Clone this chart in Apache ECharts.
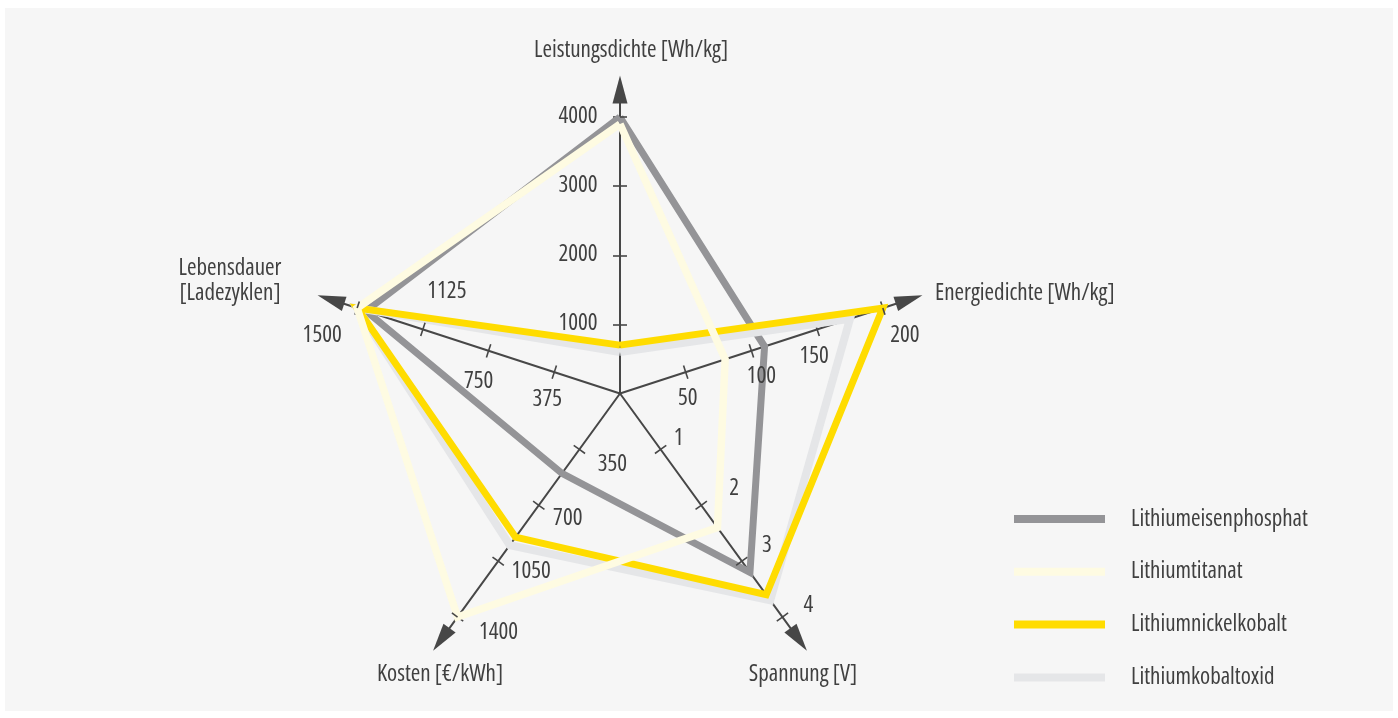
<!DOCTYPE html>
<html>
<head>
<meta charset="utf-8">
<script src="https://cdn.jsdelivr.net/npm/echarts@6/dist/echarts.min.js"></script>
<style>
  html, body { margin: 0; padding: 0; background: #ffffff; }
  #chart { width: 1398px; height: 718px; }
</style>
</head>
<body>
<div id="chart"></div>
<script>
// Axes, counter-clockwise from the top
const axisNames = ['Leistungsdichte [Wh/kg]', 'Lebensdauer\n[Ladezyklen]', 'Kosten [€/kWh]', 'Spannung [V]', 'Energiedichte [Wh/kg]'];

// Tick labels of each axis
const leistungsdichteTicks = [1000, 2000, 3000, 4000];
const lebensdauerTicks = [375, 750, 1125, 1500];
const kostenTicks = [350, 700, 1050, 1400];
const spannungTicks = [1, 2, 3, 4];
const energiedichteTicks = [50, 100, 150, 200];

// Values per battery type, in axis order
const seriesNames = ['Lithiumeisenphosphat', 'Lithiumtitanat', 'Lithiumnickelkobalt', 'Lithiumkobaltoxid'];
const lithiumeisenphosphat = [4000, 1450, 500, 3.2, 110];
const lithiumtitanat = [3900, 1500, 1400, 2.4, 80];
const lithiumnickelkobalt = [700, 1500, 900, 3.6, 200];
const lithiumkobaltoxid = [600, 1500, 950, 3.7, 175];

// Pick a narrow sans face that is installed and size it so that a few
// strings keep their intended width.
const typeface = (function () {
  const ctx = document.createElement('canvas').getContext('2d');
  const sample = 'Leistungsdichte [Wh/kg]Lithiumnickelkobalt Kosten [€/kWh]';
  const target = 521;
  function width(font) { ctx.font = font; return ctx.measureText(sample).width; }
  const mono = width('22px monospace');
  const candidates = [
    { weight: 'normal', family: "'Liberation Sans Narrow'" },
    { weight: 'normal semi-condensed', family: "'Noto Sans'" },
    { weight: 'normal semi-condensed', family: "'Open Sans'" },
    { weight: 'normal condensed', family: "'Noto Sans'" },
    { weight: 'normal condensed', family: "'Open Sans'" },
    { weight: 'normal', family: "'DejaVu Sans Condensed'" },
    { weight: 'normal', family: "'Liberation Sans'" }
  ];
  for (let i = 0; i < candidates.length; i++) {
    const c = candidates[i];
    const plain = width('22px ' + c.family + ', monospace');
    if (Math.abs(plain - mono) < 0.5) continue;           // not installed
    const styled = width(c.weight + ' 22px ' + c.family + ', monospace');
    if (c.weight !== 'normal' && styled > plain * 0.95) continue;  // no narrow width available
    const size = Math.min(23, Math.round(22 * target / styled * 2) / 2);
    return { weight: c.weight, family: c.family + ', sans-serif', size: size };
  }
  return { weight: 'normal', family: 'sans-serif', size: 20 };
})();

const FONT = typeface.family;
const FW = typeface.weight;
const FS = typeface.size;
const TEXT = '#404040';
const AXIS = '#474747';
const CENTER = [620, 393.5];
const RADIUS = 304;
const OVERSHOOT = 1.1;   // axis line runs past the last tick up to the arrow

// label centre offsets (px) from each tick point
const labelOffsets = [
  [[-42, -1], [-42, -1], [-42, -1], [-42, -1]],
  [[-7, 27], [-10, 31], [24, -38], [-35, 27]],
  [[33, 15], [29, 13], [33, 10], [41, 15]],
  [[18, -11], [33, -17], [25, -16], [26, -12]],
  [[2, 26], [10, 26], [-3, 27], [22, 27]]
];
const tickSets = [leistungsdichteTicks, lebensdauerTicks, kostenTicks, spannungTicks, energiedichteTicks];

function labelConfig(ticks, offsets) {
  const rich = {};
  offsets.forEach(function (o, i) {
    const dx = o[0], dy = o[1];
    rich['p' + i] = {
      fontFamily: FONT, fontWeight: FW, fontSize: FS, color: TEXT,
      padding: [Math.max(0, 2 * dy), Math.max(0, -2 * dx), Math.max(0, -2 * dy), Math.max(0, 2 * dx)]
    };
  });
  return {
    show: true,
    customValues: ticks,
    margin: 0,
    align: 'center',
    verticalAlign: 'middle',
    fontFamily: FONT, fontWeight: FW, fontSize: FS, color: TEXT,
    formatter: function (v) {
      const i = ticks.indexOf(+v);
      return i < 0 ? '' : '{p' + i + '|' + v + '}';
    },
    rich: rich
  };
}

function indicators(withLabels, tickLen) {
  return axisNames.map(function (name, k) {
    const ticks = tickSets[k];
    return {
      name: name,
      min: 0,
      max: ticks[ticks.length - 1] * OVERSHOOT,
      axisTick: { show: true, customValues: ticks, length: tickLen, lineStyle: { color: AXIS, width: 1.6 } },
      axisLabel: withLabels ? labelConfig(ticks, labelOffsets[k]) : { show: false }
    };
  });
}

const radarBase = {
  center: CENTER,
  radius: RADIUS,
  startAngle: 90,
  shape: 'polygon',
  splitNumber: 4,
  axisName: { show: false },
  splitLine: { show: false },
  splitArea: { show: false }
};

const styles = {
  Lithiumeisenphosphat: { color: '#949497', width: 7, data: lithiumeisenphosphat },
  Lithiumkobaltoxid: { color: '#e5e6e8', width: 8, data: lithiumkobaltoxid },
  Lithiumnickelkobalt: { color: '#ffdc00', width: 7, data: lithiumnickelkobalt },
  Lithiumtitanat: { color: '#fefbe2', width: 7.5, data: lithiumtitanat }
};
// drawing order, bottom to top
const drawOrder = ['Lithiumeisenphosphat', 'Lithiumkobaltoxid', 'Lithiumnickelkobalt', 'Lithiumtitanat'];

const series = drawOrder.map(function (name) {
  const s = styles[name];
  return {
    type: 'radar',
    radarIndex: 0,
    symbol: 'none',
    z: 3,
    itemStyle: { color: s.color },
    lineStyle: { color: s.color, width: s.width, join: 'miter', miterLimit: 20 },
    data: [{ name: name, value: s.data }]
  };
});

const nameStyle = { fontFamily: FONT, fontWeight: FW, fontSize: FS, fill: TEXT };

const option = {
  animation: false,
  backgroundColor: '#ffffff',
  radar: [
    // axis lines with arrows and one half of each tick, beneath the series
    Object.assign({}, radarBase, {
      z: 0,
      indicator: indicators(false, 7),
      axisLine: {
        show: true,
        symbol: ['none', 'triangle'],
        symbolSize: [15, 28],
        lineStyle: { color: AXIS, width: 2 }
      }
    }),
    // other half of each tick plus the tick labels, above the series
    Object.assign({}, radarBase, {
      z: 5,
      indicator: indicators(true, -7),
      axisLine: { show: false }
    })
  ],
  legend: {
    orient: 'vertical',
    left: 1009,
    top: 502,
    icon: 'rect',
    itemWidth: 91,
    itemHeight: 8,
    itemGap: 28.8,
    data: seriesNames,
    textStyle: { fontFamily: FONT, fontWeight: FW, fontSize: FS, lineHeight: 24, color: TEXT, padding: [0, 0, 0, 21] }
  },
  graphic: [
    { type: 'rect', z: -10, silent: true, shape: { x: 5, y: 8, width: 1388, height: 703 }, style: { fill: '#f6f6f6' } },
    { type: 'text', style: Object.assign({ text: axisNames[0], x: 631, y: 50, align: 'center', verticalAlign: 'middle' }, nameStyle) },
    { type: 'text', style: Object.assign({ text: axisNames[1], x: 230, y: 281, align: 'center', verticalAlign: 'middle', lineHeight: 25 }, nameStyle) },
    { type: 'text', style: Object.assign({ text: axisNames[2], x: 440, y: 674, align: 'center', verticalAlign: 'middle' }, nameStyle) },
    { type: 'text', style: Object.assign({ text: axisNames[3], x: 803, y: 674, align: 'center', verticalAlign: 'middle' }, nameStyle) },
    { type: 'text', style: Object.assign({ text: axisNames[4], x: 935, y: 293, align: 'left', verticalAlign: 'middle' }, nameStyle) }
  ],
  series: series
};

const chart = echarts.init(document.getElementById('chart'), null, { renderer: 'canvas' });
chart.setOption(option);
</script>
</body>
</html>
